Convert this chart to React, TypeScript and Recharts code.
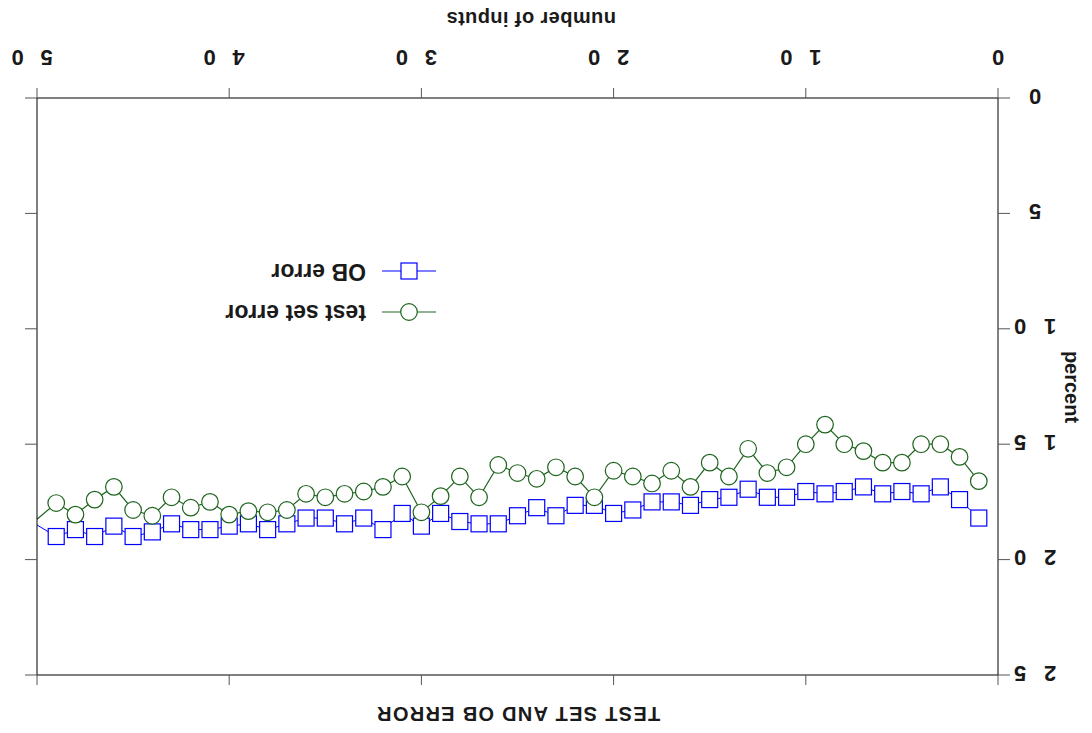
import React from 'react';
import { LineChart, Line, XAxis, YAxis, Legend } from 'recharts';

const inputs = [
  1, 2, 3, 4, 5, 6, 7, 8, 9, 10, 11, 12, 13, 14, 15, 16, 17, 18, 19, 20, 21, 22, 23, 24, 25,
  26, 27, 28, 29, 30, 31, 32, 33, 34, 35, 36, 37, 38, 39, 40, 41, 42, 43, 44, 45, 46, 47, 48, 49, 50,
];

const testSetError = [
  16.6, 15.55, 15.0, 15.0, 15.8, 15.8, 15.3, 15.0, 14.15, 15.0,
  16.0, 16.25, 15.2, 16.4, 15.8, 16.85, 16.15, 16.7, 16.4, 16.15,
  17.3, 16.4, 16.0, 16.5, 16.25, 15.9, 17.3, 16.4, 17.25, 17.95,
  16.4, 16.85, 17.05, 17.15, 17.3, 17.15, 17.85, 17.95, 17.9, 18.05,
  17.5, 17.75, 17.3, 18.1, 17.85, 16.85, 17.4, 18.05, 17.55, 18.25,
];

const obError = [
  18.2, 17.4, 16.85, 17.15, 17.05, 17.15, 16.85, 17.05, 17.15, 17.05,
  17.3, 17.3, 16.95, 17.3, 17.4, 17.65, 17.5, 17.5, 17.85, 18.0,
  17.65, 17.65, 18.1, 17.75, 18.1, 18.45, 18.45, 18.35, 18.0, 18.55,
  18.0, 18.7, 18.2, 18.45, 18.2, 18.2, 18.45, 18.7, 18.45, 18.55,
  18.7, 18.7, 18.45, 18.8, 19.0, 18.55, 19.0, 18.7, 19.0, 18.5,
];

const xTicks = [0, 10, 20, 30, 40, 50];
const yTicks = [0, 5, 10, 15, 20, 25];

const titleText = 'TEST SET AND OB ERROR';
const xLabelText = 'number of inputs';
const yLabelText = 'percent';
const testLabel = 'test set error';
const obLabel = 'OB error';

const GREEN = '#1e641e';
const BLUE = '#0000ff';
const FONT = "'Liberation Sans', Arial, Helvetica, sans-serif";
const TEXT = '#1a1a1a';

const data = inputs.map((n, i) => ({ n, test: testSetError[i], ob: obError[i] }));

const CircleDot = (props: any) => {
  const { cx, cy, payload } = props;
  if (cx == null || cy == null || payload.n === 50) return <g />;
  return <circle cx={cx} cy={cy} r={8.3} fill="#fff" stroke={GREEN} strokeWidth={1.2} />;
};

const SquareDot = (props: any) => {
  const { cx, cy, payload } = props;
  if (cx == null || cy == null || payload.n === 50) return <g />;
  return <rect x={cx - 8} y={cy - 8} width={16} height={16} fill="#fff" stroke={BLUE} strokeWidth={1.2} />;
};

const digitStyle = {
  fontFamily: FONT,
  fontWeight: 'bold' as const,
  fontSize: 22,
  fill: TEXT,
};

const XTick = (props: any) => {
  const { x, y, payload } = props;
  const chars = String(payload.value).split('');
  const n = chars.length;
  const spacing = 29;
  const shift = n > 1 ? 5 : 0;
  return (
    <g>
      {chars.map((c, i) => (
        <text
          key={i}
          x={x + shift + (i - (n - 1) / 2) * spacing}
          y={y + 31}
          textAnchor="middle"
          dominantBaseline="central"
          style={digitStyle}
        >
          {c}
        </text>
      ))}
    </g>
  );
};

const YTick = (props: any) => {
  const { x, y, payload } = props;
  const chars = String(payload.value).split('');
  const n = chars.length;
  const spacing = 30;
  return (
    <g>
      {chars.map((c, i) => (
        <text
          key={i}
          x={x - 25 + (i - (n - 1) / 2) * spacing}
          y={y + 2}
          textAnchor="middle"
          dominantBaseline="central"
          style={digitStyle}
        >
          {c}
        </text>
      ))}
    </g>
  );
};

const EmptyTick = () => <g />;

const legendItems = [
  { label: testLabel, color: GREEN, shape: 'circle' },
  { label: obLabel, color: BLUE, shape: 'square' },
];

const LegendContent = () => (
  <div style={{ fontFamily: FONT, fontWeight: 'bold', fontSize: 23, color: TEXT }}>
    {legendItems.map((item) => (
      <div key={item.label} style={{ display: 'flex', alignItems: 'center', height: 41 }}>
        <svg width={54} height={20} style={{ display: 'block' }}>
          <line x1={0} y1={10} x2={54} y2={10} stroke={item.color} strokeWidth={1.2} />
          {item.shape === 'circle' ? (
            <circle cx={27} cy={10} r={8.3} fill="#fff" stroke={item.color} strokeWidth={1.2} />
          ) : (
            <rect x={19} y={2} width={16} height={16} fill="#fff" stroke={item.color} strokeWidth={1.2} />
          )}
        </svg>
        <span style={{ marginLeft: 16, whiteSpace: 'nowrap' }}>{item.label}</span>
      </div>
    ))}
  </div>
);

const labelStyle = { fontFamily: FONT, fontWeight: 'bold' as const, fontSize: 20, fill: TEXT };

export default function App() {
  return (
    <div
      style={{
        position: 'absolute',
        left: 0,
        top: 0,
        width: 1092,
        height: 733,
        background: '#fff',
        transform: 'rotate(180deg)',
      }}
    >
      <LineChart width={1092} height={733} data={data} margin={{ top: 48, right: 27, bottom: 58, left: 34 }}>
        <XAxis
          xAxisId="b"
          dataKey="n"
          type="number"
          domain={[0, 50]}
          ticks={xTicks}
          interval={0}
          orientation="bottom"
          height={40}
          tickSize={10}
          tickMargin={0}
          axisLine={{ stroke: '#000', strokeWidth: 1 }}
          tickLine={{ stroke: '#555', strokeWidth: 1 }}
          tick={<XTick />}
        />
        <XAxis
          xAxisId="t"
          dataKey="n"
          type="number"
          domain={[0, 50]}
          ticks={xTicks}
          interval={0}
          orientation="top"
          height={10}
          tickSize={10}
          axisLine={{ stroke: '#000', strokeWidth: 1 }}
          tickLine={{ stroke: '#555', strokeWidth: 1 }}
          tick={<EmptyTick />}
        />
        <YAxis
          yAxisId="l"
          type="number"
          domain={[0, 25]}
          ticks={yTicks}
          interval={0}
          orientation="left"
          width={60}
          tickSize={12}
          tickMargin={0}
          axisLine={{ stroke: '#000', strokeWidth: 1 }}
          tickLine={{ stroke: '#555', strokeWidth: 1 }}
          tick={<YTick />}
        />
        <YAxis
          yAxisId="r"
          type="number"
          domain={[0, 25]}
          ticks={yTicks}
          interval={0}
          orientation="right"
          width={10}
          tickSize={12}
          allowDataOverflow
          axisLine={{ stroke: '#000', strokeWidth: 1 }}
          tickLine={{ stroke: '#555', strokeWidth: 1 }}
          tick={<EmptyTick />}
        />
        <Line
          xAxisId="b"
          yAxisId="l"
          dataKey="ob"
          stroke={BLUE}
          strokeWidth={1}
          dot={<SquareDot />}
          activeDot={false}
          isAnimationActive={false}
          type="linear"
        />
        <Line
          xAxisId="b"
          yAxisId="l"
          dataKey="test"
          stroke={GREEN}
          strokeWidth={1.2}
          dot={<CircleDot />}
          activeDot={false}
          isAnimationActive={false}
          type="linear"
        />
        <Legend
          layout="vertical"
          align="center"
          verticalAlign="middle"
          wrapperStyle={{ left: 656, top: 400, width: 280 }}
          content={<LegendContent />}
        />
        <text x={574} y={19} textAnchor="middle" dominantBaseline="central" style={{ ...labelStyle, letterSpacing: 1.3 }}>
          {titleText}
        </text>
        <text x={561} y={714} textAnchor="middle" dominantBaseline="central" style={{ ...labelStyle, letterSpacing: 0.4 }}>
          {xLabelText}
        </text>
        <text
          x={20}
          y={346}
          textAnchor="middle"
          dominantBaseline="central"
          transform="rotate(-90 20 346)"
          style={labelStyle}
        >
          {yLabelText}
        </text>
      </LineChart>
    </div>
  );
}
